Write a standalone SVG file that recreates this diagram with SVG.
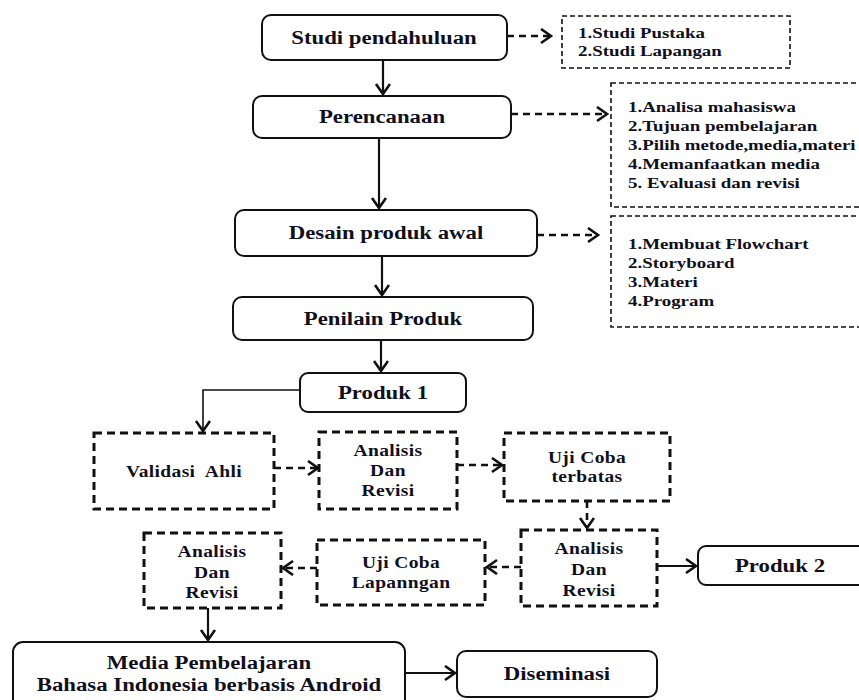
<svg xmlns="http://www.w3.org/2000/svg" width="859" height="700" viewBox="0 0 859 700">
<style>
.sb{fill:#fff;stroke:#111;stroke-width:2}
.db{fill:#fff;stroke:#111;stroke-width:3;stroke-dasharray:8 5}
.lb{fill:#fff;stroke:#111;stroke-width:1.6;stroke-dasharray:5 3}
.m{font-family:"Liberation Serif","Times New Roman",serif;font-weight:bold;font-size:19px;fill:#10101c;text-anchor:middle}
.s{font-family:"Liberation Serif","Times New Roman",serif;font-weight:bold;font-size:16px;fill:#10101c;text-anchor:middle;letter-spacing:0.3px}
.l{font-family:"Liberation Serif","Times New Roman",serif;font-weight:bold;font-size:15.5px;fill:#10101c}
.c{fill:none;stroke:#111;stroke-width:2.2}
.cd{fill:none;stroke:#111;stroke-width:2.6;stroke-dasharray:7 5}
</style>
<defs>
<marker id="ah" markerUnits="userSpaceOnUse" markerWidth="16" markerHeight="18" refX="12" refY="8" orient="auto">
<path d="M2,1 L12,8 L2,15" fill="none" stroke="#111" stroke-width="2.6"/>
</marker>
</defs>
<rect width="859" height="700" fill="#fff"/>
<g id="connectors">
<path class="c" d="M383,60 V94" marker-end="url(#ah)"/>
<path class="c" d="M379,138 V208" marker-end="url(#ah)"/>
<path class="c" d="M382,256 V295" marker-end="url(#ah)"/>
<path class="c" d="M381,340 V371" marker-end="url(#ah)"/>
<path class="cd" d="M507,36 H551" marker-end="url(#ah)"/>
<path class="cd" d="M511,114 H607" marker-end="url(#ah)"/>
<path class="cd" d="M537,235 H598" marker-end="url(#ah)"/>
<path class="c" style="stroke-width:1.6" d="M300,390 H203 V431" marker-end="url(#ah)"/>
<path class="cd" d="M274,468 H318" marker-end="url(#ah)"/>
<path class="cd" d="M457,465 H502" marker-end="url(#ah)"/>
<path class="cd" d="M587,501 V528" marker-end="url(#ah)"/>
<path class="c" d="M657,566 H696" marker-end="url(#ah)"/>
<path class="cd" d="M521,567 H487" marker-end="url(#ah)"/>
<path class="cd" d="M317,568 H283" marker-end="url(#ah)"/>
<path class="c" d="M208,608 V640" marker-end="url(#ah)"/>
<path class="c" d="M405,673 H455" marker-end="url(#ah)"/>
</g>
<g id="studi">
<rect class="sb" x="262" y="15" width="245" height="45" rx="9"/>
<text class="m" transform="translate(384 44) scale(1.2 1)">Studi pendahuluan</text>
</g>
<g id="list1">
<rect class="lb" x="562" y="16" width="228" height="52"/>
<text class="l" transform="translate(578 38) scale(1.22 1)">1.Studi Pustaka</text>
<text class="l" transform="translate(578 56) scale(1.22 1)">2.Studi Lapangan</text>
</g>
<g id="perencanaan">
<rect class="sb" x="253" y="96" width="258" height="42" rx="9"/>
<text class="m" transform="translate(382 123) scale(1.2 1)">Perencanaan</text>
</g>
<g id="list2">
<rect class="lb" x="611" y="83" width="262" height="124"/>
<text class="l" transform="translate(628 112) scale(1.22 1)">1.Analisa mahasiswa</text>
<text class="l" transform="translate(628 131) scale(1.22 1)">2.Tujuan pembelajaran</text>
<text class="l" transform="translate(628 150) scale(1.22 1)">3.Pilih metode,media,materi</text>
<text class="l" transform="translate(628 169) scale(1.22 1)">4.Memanfaatkan media</text>
<text class="l" transform="translate(628 188) scale(1.22 1)">5. Evaluasi dan revisi</text>
</g>
<g id="desain">
<rect class="sb" x="235" y="210" width="302" height="46" rx="9"/>
<text class="m" transform="translate(386 239) scale(1.2 1)">Desain produk awal</text>
</g>
<g id="list3">
<rect class="lb" x="611" y="216" width="262" height="111"/>
<text class="l" transform="translate(628 249) scale(1.22 1)">1.Membuat Flowchart</text>
<text class="l" transform="translate(628 268) scale(1.22 1)">2.Storyboard</text>
<text class="l" transform="translate(628 287) scale(1.22 1)">3.Materi</text>
<text class="l" transform="translate(628 306) scale(1.22 1)">4.Program</text>
</g>
<g id="penilain">
<rect class="sb" x="233" y="297" width="300" height="43" rx="9"/>
<text class="m" transform="translate(383 325) scale(1.2 1)">Penilain Produk</text>
</g>
<g id="produk1">
<rect class="sb" x="300" y="373" width="166" height="39" rx="8"/>
<text class="m" transform="translate(383 399) scale(1.2 1)">Produk 1</text>
</g>
<g id="validasi">
<rect class="db" x="94" y="433" width="180" height="76"/>
<text class="s" transform="translate(184 477) scale(1.22 1)">Validasi&#160; Ahli</text>
</g>
<g id="analisis1">
<rect class="db" x="319" y="432" width="138" height="77"/>
<text class="s" transform="translate(388 456) scale(1.22 1)">Analisis</text>
<text class="s" transform="translate(388 476) scale(1.22 1)">Dan</text>
<text class="s" transform="translate(388 496) scale(1.22 1)">Revisi</text>
</g>
<g id="ujiterbatas">
<rect class="db" x="504" y="433" width="166" height="68"/>
<text class="s" transform="translate(587 463) scale(1.22 1)">Uji Coba</text>
<text class="s" transform="translate(587 482) scale(1.22 1)">terbatas</text>
</g>
<g id="analisis2">
<rect class="db" x="521" y="530" width="136" height="76"/>
<text class="s" transform="translate(589 554) scale(1.22 1)">Analisis</text>
<text class="s" transform="translate(589 575) scale(1.22 1)">Dan</text>
<text class="s" transform="translate(589 596) scale(1.22 1)">Revisi</text>
</g>
<g id="produk2">
<rect class="sb" x="698" y="546" width="180" height="39" rx="8"/>
<text class="m" transform="translate(780 572) scale(1.2 1)">Produk 2</text>
</g>
<g id="ujilapangan">
<rect class="db" x="317" y="540" width="168" height="65"/>
<text class="s" transform="translate(401 568) scale(1.22 1)">Uji Coba</text>
<text class="s" transform="translate(401 588) scale(1.22 1)">Lapanngan</text>
</g>
<g id="analisis3">
<rect class="db" x="144" y="533" width="137" height="75"/>
<text class="s" transform="translate(212 557) scale(1.22 1)">Analisis</text>
<text class="s" transform="translate(212 578) scale(1.22 1)">Dan</text>
<text class="s" transform="translate(212 598) scale(1.22 1)">Revisi</text>
</g>
<g id="media">
<rect class="sb" x="13" y="642" width="392" height="70" rx="10"/>
<text class="m" transform="translate(209 669) scale(1.2 1)">Media Pembelajaran</text>
<text class="m" transform="translate(209 691) scale(1.2 1)">Bahasa Indonesia berbasis Android</text>
</g>
<g id="diseminasi">
<rect class="sb" x="457" y="651" width="200" height="46" rx="9"/>
<text class="m" transform="translate(557 680) scale(1.2 1)">Diseminasi</text>
</g>
</svg>
